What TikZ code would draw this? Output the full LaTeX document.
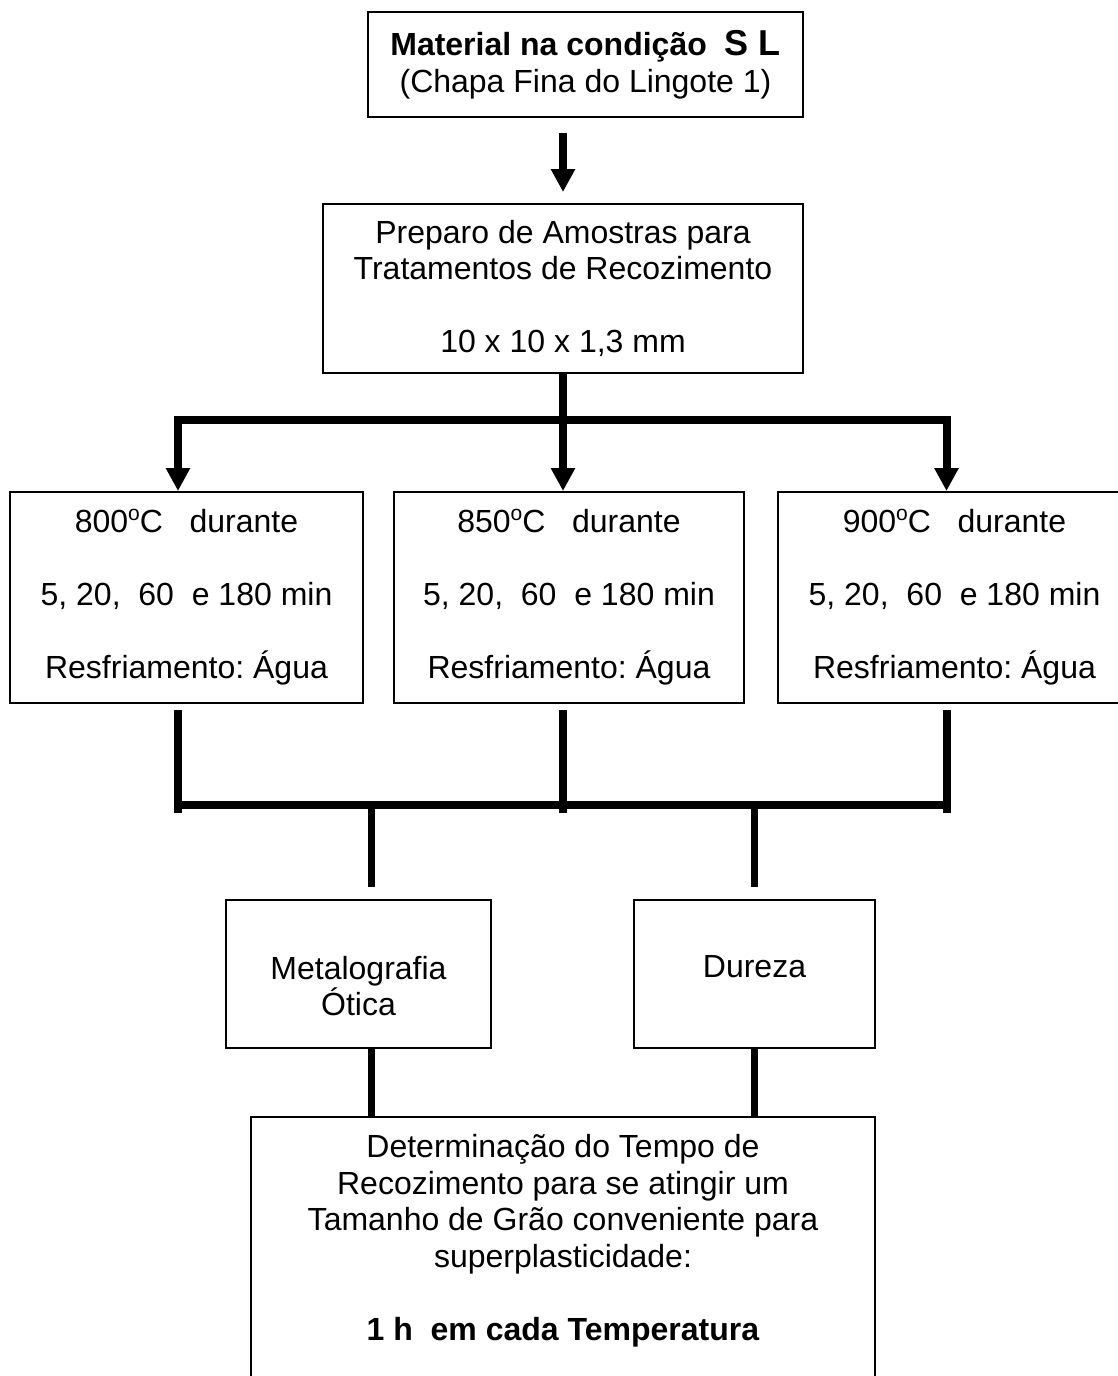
\documentclass[tikz,border=0pt]{standalone}
\usepackage{fontspec}
\setmainfont{Liberation Sans}
\usetikzlibrary{arrows.meta,calc}
\newcommand\degsup{\raisebox{12pt}{\fontsize{21}{21}\selectfont o}}
\frenchspacing
\begin{document}
\begin{tikzpicture}[x=1pt,y=-1pt,
  box/.style={draw,line width=2pt,rectangle,inner sep=0pt,align=center,
    font=\fontsize{32}{36.5}\selectfont},
  txt/.style={inner sep=0pt,align=center,font=\fontsize{32}{36.5}\selectfont},
  conn/.style={line width=8pt},
  drop/.style={line width=7pt},
  arr/.style={conn,line join=miter,-{Triangle[width=23pt,length=23pt]}}
]
\useasboundingbox (0,0) rectangle (1117,1376);

% boxes
\node[box,minimum width=435,minimum height=105] (top) at (585.5,64.5)
  {{\bfseries Material na condição\ \ {\fontsize{36}{36}\selectfont S L}}\\(Chapa Fina do Lingote 1)};
\node[box,minimum width=480,minimum height=169] (prep) at (563,288.5)
  {Preparo de Amostras para\\Tratamentos de Recozimento\\[36.5pt]10 x 10 x 1,3 mm};
\node[box,minimum width=353,minimum height=211] (b1) at (186.5,597.5)
  {800\degsup C\ \ \ durante\\[36.5pt]5, 20,\ \ 60\ \ e 180 min\\[36.5pt]Resfriamento: Água};
\node[box,minimum width=350,minimum height=211] (b2) at (569,597.5)
  {850\degsup C\ \ \ durante\\[36.5pt]5, 20,\ \ 60\ \ e 180 min\\[36.5pt]Resfriamento: Água};
\node[box,minimum width=353,minimum height=211] (b3) at (954.5,597.5)
  {900\degsup C\ \ \ durante\\[36.5pt]5, 20,\ \ 60\ \ e 180 min\\[36.5pt]Resfriamento: Água};
\node[box,minimum width=265,minimum height=148] (metal) at (358.5,974) {};
\node[txt] (metaltxt) at (358.5,986) {Metalografia\\Ótica};
\node[box,minimum width=241,minimum height=148] (dureza) at (754.5,974) {};
\node[txt] (durezatxt) at (754.5,967) {Dureza};
\node[box,minimum width=624,minimum height=303] (final) at (563,1268.5) {};
\node[txt] (finaltxt) at (563,1240.5)
  {Determinação do Tempo de\\Recozimento para se atingir um\\Tamanho de Grão conveniente para\\superplasticidade:\\[36.5pt]\textbf{1 h\ \ em cada Temperatura}};

% connector points
\coordinate (hub) at (563,420);
\coordinate (busL) at (178,420);
\coordinate (busR) at (946.5,420);
\coordinate (m1) at (178,805);
\coordinate (m2) at (563,805);
\coordinate (m3) at (946.5,805);
\coordinate (d1) at (371,805);
\coordinate (d2) at (754,805);

% top arrow
\draw[arr] ($(top.south -| prep.north)+(0,15)$) -- ($(prep.north)+(0,-11)$);
% distribution
\draw[arr] (prep.south) -- (prep.south |- b2.north);
\draw[arr] (hub) -- (busL) -- (busL |- b1.north);
\draw[arr] (hub) -- (busR) -- (busR |- b3.north);
% collection
\draw[conn] ($(b1.south -| m1)+(0,6)$) -- ($(m1)+(0,8)$);
\draw[conn] ($(b2.south -| m2)+(0,6)$) -- ($(m2)+(0,8)$);
\draw[conn] ($(b3.south -| m3)+(0,6)$) -- ($(m3)+(0,8)$);
\draw[conn] (m1) -- (m3);
\draw[drop] (d1) -- ($(d1 |- metal.north)+(0,-12)$);
\draw[drop] (d2) -- ($(d2 |- dureza.north)+(0,-12)$);
\draw[drop] (metal.south -| d1) -- (final.north -| d1);
\draw[drop] (dureza.south -| d2) -- (final.north -| d2);
\end{tikzpicture}
\end{document}
